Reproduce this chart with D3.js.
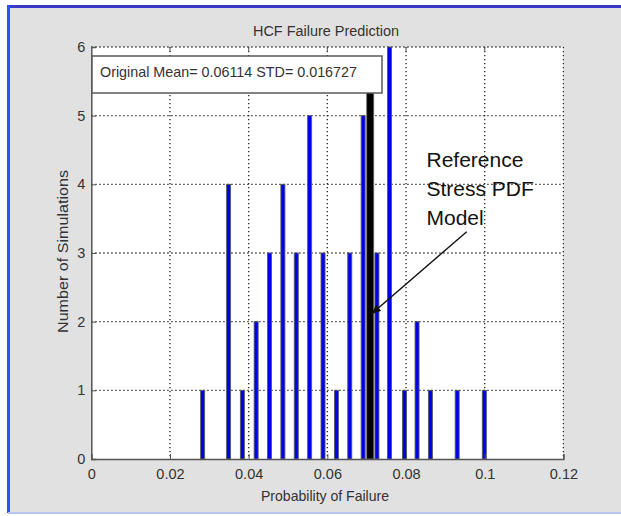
<!DOCTYPE html>
<html>
<head>
<meta charset="utf-8">
<script src="https://cdn.jsdelivr.net/npm/d3@7"></script>
<style>
  html, body { margin: 0; padding: 0; background: #fff; }
  svg { display: block; font-family: "Liberation Sans", Arial, sans-serif; }
</style>
</head>
<body>
<div id="chart"></div>
<script>
// histogram bins (probability of failure -> count)
const binCenters = [0.0283, 0.0349, 0.0384, 0.0419, 0.0453, 0.0487, 0.0521, 0.0555, 0.0589, 0.0623,
                    0.0657, 0.0691, 0.0726, 0.0758, 0.0796, 0.0828, 0.0862, 0.0930, 0.0999]
const counts = [1, 4, 1, 2, 3, 4, 3, 5, 3, 1, 3, 5, 3, 6, 1, 2, 1, 1, 1]

const refValue = 0.0709
const refCount = 5.4

const xTicks = [0, 0.02, 0.04, 0.06, 0.08, 0.1, 0.12]
const yTicks = [0, 1, 2, 3, 4, 5, 6]

const title = "HCF Failure Prediction"
const legendText = "Original Mean= 0.06114 STD= 0.016727"
const xLabel = "Probability of Failure"
const yLabel = "Number of Simulations"
const noteLines = ["Reference", "Stress PDF", "Model"]

const W = 621, H = 516
const PLOT = { LEFT: 91.3, RIGHT: 563.4, TOP: 47, BOTTOM: 459 }

const svg = d3.select("#chart").append("svg")
  .attr("width", W)
  .attr("height", H)

// window frame
svg.append("rect").attr("x", 8).attr("y", 6).attr("width", W - 8).attr("height", 507).attr("fill", "#e1e1e1")
svg.append("rect").attr("x", 8).attr("y", 5).attr("width", W - 8).attr("height", 3).attr("fill", "#3a3ac8")
svg.append("rect").attr("x", 7).attr("y", 5).attr("width", 3).attr("height", 508).attr("fill", "#2f4fff")
svg.append("rect").attr("x", 8).attr("y", 512).attr("width", W - 8).attr("height", 2).attr("fill", "#b8c8f0")

const x = d3.scaleLinear().domain([0, 0.12]).range([PLOT.LEFT, PLOT.RIGHT])
const y = d3.scaleLinear().domain([0, 6]).range([PLOT.BOTTOM, PLOT.TOP])

const g = svg.append("g")

g.append("rect")
  .attr("x", PLOT.LEFT).attr("y", PLOT.TOP)
  .attr("width", PLOT.RIGHT - PLOT.LEFT).attr("height", PLOT.BOTTOM - PLOT.TOP)
  .attr("fill", "#fff")

// dotted grid (also forms the top and right edges)
g.selectAll(".gx").data(xTicks.slice(1))
  .enter().append("line")
    .attr("x1", d => x(d)).attr("x2", d => x(d))
    .attr("y1", PLOT.TOP).attr("y2", PLOT.BOTTOM)
    .attr("stroke", "#222").attr("stroke-width", 1.3)
    .attr("stroke-dasharray", "1.3,2.7")

g.selectAll(".gy").data(yTicks.slice(1))
  .enter().append("line")
    .attr("x1", PLOT.LEFT).attr("x2", PLOT.RIGHT)
    .attr("y1", d => y(d)).attr("y2", d => y(d))
    .attr("stroke", "#222").attr("stroke-width", 1.3)
    .attr("stroke-dasharray", "1.3,2.7")

// histogram bars
const bins = binCenters.map((v, i) => ({ v: v, c: counts[i] }))
const barW = 4

g.selectAll(".bar").data(bins)
  .enter().append("rect")
    .attr("x", d => x(d.v) - barW / 2)
    .attr("y", d => y(d.c))
    .attr("width", barW)
    .attr("height", d => y(0) - y(d.c))
    .attr("fill", "#0000f0")
    .attr("stroke", "#5a5a5a")
    .attr("stroke-width", 0.9)

// reference model bar
g.append("rect")
  .attr("x", x(refValue) - 3.5)
  .attr("y", y(refCount))
  .attr("width", 7)
  .attr("height", y(0) - y(refCount))
  .attr("fill", "#000")
  .attr("stroke", "#666")
  .attr("stroke-width", 0.8)

// axes (left and bottom solid, ticks inward)
const xAxis = d3.axisBottom(x).tickValues(xTicks).tickSize(-5).tickPadding(8)
  .tickFormat(d => d3.format("")(+d.toFixed(2)))
const yAxis = d3.axisLeft(y).tickValues(yTicks).tickSize(-5).tickPadding(6)
  .tickFormat(d3.format("d"))

const xg = g.append("g").attr("transform", `translate(0, ${PLOT.BOTTOM})`).call(xAxis)
const yg = g.append("g").attr("transform", `translate(${PLOT.LEFT}, 0)`).call(yAxis)

for (const ax of [xg, yg]) {
  ax.select(".domain").attr("stroke", "#555").attr("stroke-width", 1.5)
  ax.selectAll(".tick line").attr("stroke", "#555").attr("stroke-width", 1)
  ax.selectAll(".tick text").attr("fill", "#333").attr("font-size", 14.5)
    .attr("font-family", "Liberation Sans, Arial, sans-serif")
}
xg.selectAll(".tick text").attr("dy", "0.85em")

// small ticks on the top edge
g.selectAll(".tt").data(xTicks.slice(1, -1))
  .enter().append("line")
    .attr("x1", d => x(d)).attr("x2", d => x(d))
    .attr("y1", PLOT.TOP).attr("y2", PLOT.TOP + 5)
    .attr("stroke", "#555").attr("stroke-width", 1)

// legend box
g.append("rect")
  .attr("x", 92).attr("y", 56).attr("width", 290).attr("height", 37)
  .attr("fill", "#fff").attr("stroke", "#5a5a5a").attr("stroke-width", 1.5)

g.append("text")
  .attr("x", 100).attr("y", 77)
  .attr("font-size", 14.5).attr("fill", "#333")
  .attr("textLength", 257).attr("lengthAdjust", "spacingAndGlyphs")
  .text(legendText)

// title and axis labels
svg.append("text")
  .attr("x", 326).attr("y", 35.5)
  .attr("text-anchor", "middle").attr("font-size", 15.5).attr("fill", "#333")
  .attr("textLength", 146).attr("lengthAdjust", "spacingAndGlyphs")
  .text(title)

svg.append("text")
  .attr("x", 325).attr("y", 501)
  .attr("text-anchor", "middle").attr("font-size", 14.5).attr("fill", "#333")
  .attr("textLength", 128).attr("lengthAdjust", "spacingAndGlyphs")
  .text(xLabel)

svg.append("text")
  .attr("transform", "translate(67.5, 251.5) rotate(-90)")
  .attr("text-anchor", "middle").attr("font-size", 14.5).attr("fill", "#333")
  .attr("textLength", 163).attr("lengthAdjust", "spacingAndGlyphs")
  .text(yLabel)

// annotation with arrow
svg.append("defs").append("marker")
  .attr("id", "arrow")
  .attr("viewBox", "0 0 10 10")
  .attr("refX", 9).attr("refY", 5)
  .attr("markerWidth", 7).attr("markerHeight", 7)
  .attr("markerUnits", "strokeWidth")
  .attr("orient", "auto")
  .append("path").attr("d", "M0,1 L10,5 L0,9 z").attr("fill", "#111")

svg.append("line")
  .attr("x1", 466.7).attr("y1", 231.7)
  .attr("x2", 372).attr("y2", 313.5)
  .attr("stroke", "#111").attr("stroke-width", 1.4)
  .attr("marker-end", "url(#arrow)")

svg.append("g").selectAll("text").data(noteLines)
  .enter().append("text")
    .attr("x", 426.5)
    .attr("y", (d, i) => 166.5 + i * 29.3)
    .attr("font-size", 21).attr("fill", "#111")
    .text(d => d)
</script>
</body>
</html>
